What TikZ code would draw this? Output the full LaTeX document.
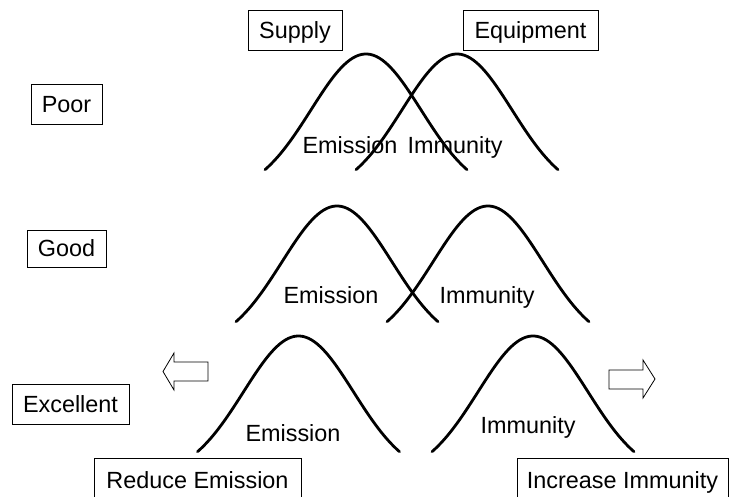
\documentclass[tikz,border=0pt]{standalone}
\usepackage{fontspec}
\setmainfont{Liberation Sans}
\begin{document}
\begin{tikzpicture}[x=1pt,y=-1pt,
  every node/.style={font=\fontsize{23.4}{28}\selectfont},
  lbox/.style={draw=black,line width=0.9pt,inner sep=0pt,text height=16.8pt,text depth=0pt},
  bell/.style={line width=2.8pt,line join=round,line cap=round},
  curvelabel/.style={anchor=base,inner sep=0pt},
  hollowarrow/.style={draw=black,line width=0.8pt,line join=miter}]
\useasboundingbox (0,0) rectangle (733,496);
\fill[white] (0,0) rectangle (733,496);
% boxes
\node[lbox,minimum width=94pt,minimum height=40pt] (supply) at (295,30) {Supply};
\node[lbox,minimum width=135pt,minimum height=40pt] (equip) at (530.5,30) {Equipment};
\node[lbox,minimum width=71pt,minimum height=40pt] (poor) at (66.5,104) {Poor};
\node[lbox,minimum width=79pt,minimum height=37pt] (good) at (66.5,248.5) {Good};
\node[lbox,minimum width=117pt,minimum height=40pt] (excellent) at (70.5,404) {Excellent};
\node[lbox,minimum width=207pt,minimum height=44pt] (reduce) at (197.5,480) {Reduce Emission};
\node[lbox,minimum width=211pt,minimum height=44pt] (increase) at (622.5,480) {Increase Immunity};
% bell curves
\newcommand\bellcurve[2]{%
  \draw[bell] plot[domain=-101:101,samples=70,smooth] ({#1+\x},{#2+142*(1-exp(-(\x*\x)/6050))});}
\bellcurve{366}{54}
\bellcurve{457}{54}
\bellcurve{337}{206}
\bellcurve{488}{206}
\bellcurve{298.5}{336}
\bellcurve{533}{336}
% curve labels
\node[curvelabel] (e1) at (350,153) {Emission};
\node[curvelabel] (i1) at (455,153) {Immunity};
\node[curvelabel] (e2) at (331,303) {Emission};
\node[curvelabel] (i2) at (487,303) {Immunity};
\node[curvelabel] (e3) at (293,441) {Emission};
\node[curvelabel] (i3) at (528,433) {Immunity};
% hollow arrows
\draw[hollowarrow] (163,371.5) -- (174,353) -- (174,362) -- (208,362) -- (208,381) -- (174,381) -- (174,390) -- cycle;
\draw[hollowarrow] (655,379) -- (643,360) -- (643,370) -- (609,370) -- (609,389) -- (643,389) -- (643,398) -- cycle;
\end{tikzpicture}
\end{document}
